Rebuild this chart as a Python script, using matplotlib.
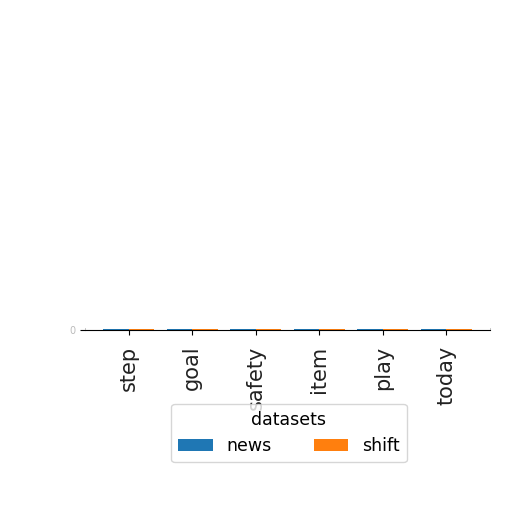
import numpy as np
import matplotlib
matplotlib.use("Agg")
import matplotlib.pyplot as plt

categories = ["step", "goal", "safety", "item", "play", "today"]
news = [0.2, 0.3, 1.0, 0.6, 0.4, 0.3]
shift = [0.1, 0.2, 0.8, 0.5, 0.6, 0.4]

fig = plt.figure(figsize=(5.12, 5.12), dpi=100)
# axes squashed to a couple of pixels, like the original
ax = fig.add_axes([85 / 512, 1 - 329.5 / 512, (490 - 85) / 512, 2 / 512])

x = np.arange(len(categories))
w = 0.4
ax.bar(x - w / 2, news, w, label="news", color="#1f77b4", linewidth=0)
ax.bar(x + w / 2, shift, w, label="shift", color="#ff7f0e", linewidth=0)

ax.set_xticks(x)
ax.set_xticklabels(categories, rotation=90, fontsize=15, color="#222222")
ax.tick_params(axis="x", pad=8)
ax.set_yticks([0])
ax.tick_params(axis="y", labelsize=7, labelcolor="#bbbbbb")
ax.set_ylim(0, 12)
ax.spines["top"].set_visible(False)
for s in ["left", "right"]:
    ax.spines[s].set_color("#bbbbbb")
    ax.spines[s].set_linewidth(0.6)

fig.legend(title="datasets", ncol=2, loc="center",
           bbox_to_anchor=(289 / 512, 1 - 433 / 512),
           fontsize=12.5, title_fontsize=12.5, columnspacing=2.4)

fig.savefig("out.png", dpi=100)
